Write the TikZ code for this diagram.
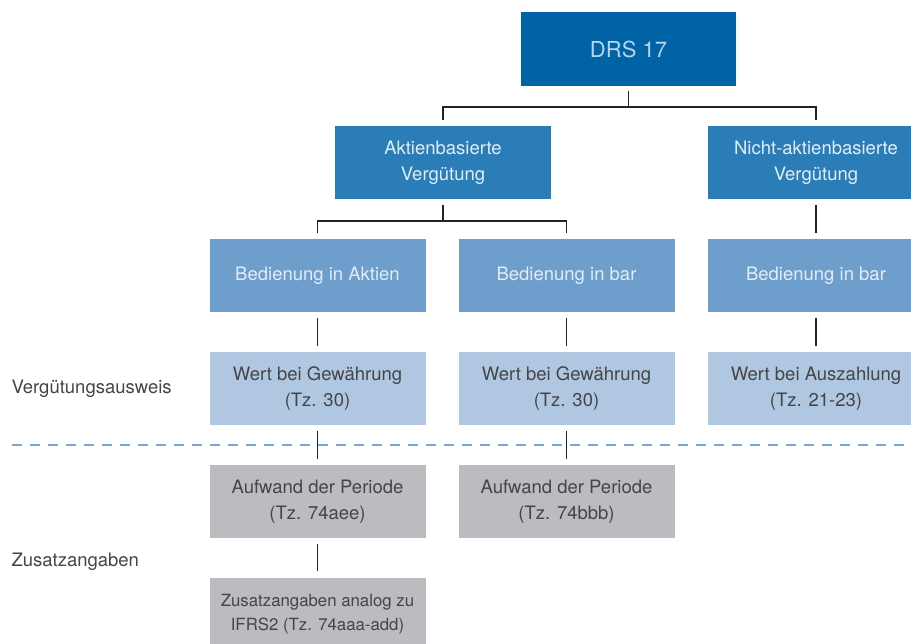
\documentclass[tikz,border=0pt]{standalone}
\usepackage{fontspec}
\setmainfont{TeX Gyre Heros}
\usepackage{xcolor}
\definecolor{drsblau}{HTML}{0063A6}
\definecolor{mittelblau}{HTML}{2B7DB7}
\definecolor{hellblau}{HTML}{6E9ECB}
\definecolor{blassblau}{HTML}{B0C7E2}
\definecolor{grau}{HTML}{BBBCBF}
\definecolor{schrift}{HTML}{454545}
\definecolor{linie}{HTML}{222222}
\definecolor{trennlinie}{HTML}{7DA6D4}
\definecolor{drsschrift}{HTML}{B8D4EE}
\definecolor{hellschrift}{HTML}{E2ECF6}

\begin{document}
\begin{tikzpicture} [x=1pt, y=-1pt
  , box/.style={minimum width=216pt, minimum height=73pt, inner sep=2pt, align=center
      , font=\fontsize{18.5}{26}\selectfont}
  , drsbox/.style={box, fill=drsblau, text=drsschrift, minimum width=215pt, minimum height=74pt
      , font=\fontsize{22}{26}\selectfont}
  , artbox/.style={box, fill=mittelblau, text=hellschrift}
  , bedbox/.style={box, fill=hellblau, text=hellschrift}
  , wertbox/.style={box, fill=blassblau, text=schrift}
  , zusbox/.style={box, fill=grau, text=schrift}
  , ebene/.style={anchor=west, text=schrift, font=\fontsize{18.5}{26}\selectfont}
  , link/.style={draw=linie, line width=1.8pt, shorten <=6pt, shorten >=6pt}
  , baum/.style={draw=linie, line width=1.8pt}
]
\useasboundingbox (0,0) rectangle (911,644);

% Ebene 1 und 2
\node[drsbox] (drs) at (628.5,49) {DRS 17};
\node[artbox] (aktien) at (443,162.5) {Aktienbasierte\\Vergütung};
\node[artbox] (nicht) at (816,162.5) {Nicht-aktienbasierte\\Vergütung};

% Bedienung
\node[bedbox] (bedaktien) at (317.5,275.5) {Bedienung in Aktien};
\node[bedbox] (bedbar) at (566.5,275.5) {Bedienung in bar};
\node[bedbox] (bedbarnicht) at (816,275.5) {Bedienung in bar};

% Wert
\node[wertbox] (wertaktien) at (317.5,388.5) {Wert bei Gewährung\\(Tz. 30)};
\node[wertbox] (wertbar) at (566.5,388.5) {Wert bei Gewährung\\(Tz. 30)};
\node[wertbox] (wertnicht) at (816,388.5) {Wert bei Auszahlung\\(Tz. 21-23)};

% Zusatzangaben
\node[zusbox] (aufwandaktien) at (317.5,501.5) {Aufwand der Periode\\(Tz. 74aee)};
\node[zusbox] (aufwandbar) at (566.5,501.5) {Aufwand der Periode\\(Tz. 74bbb)};
\node[zusbox, font=\fontsize{16.8}{24}\selectfont] (zusatz) at (317.5,614) {Zusatzangaben analog zu\\IFRS2 (Tz. 74aaa-add)};

\node[ebene] (lblwert) at (8,389) {Vergütungsausweis};
\node[ebene] (lblzusatz) at (8,562) {Zusatzangaben};

\coordinate (trennL) at (12,445);
\coordinate (trennR) at (911,445);
\draw[trennlinie, line width=1.6pt, dash pattern=on 10pt off 8pt] (trennL) -- (trennR);

\path[baum]
([yshift=-5pt]drs.south) -- ([yshift=-21pt]drs.south)
([yshift=6pt]aktien.north) |- ([yshift=-21pt]drs.south) -| ([yshift=6pt]nicht.north)
([yshift=-6pt]aktien.south) -- ([yshift=-22pt]aktien.south)
([yshift=6pt]bedaktien.north) |- ([yshift=-22pt]aktien.south) -| ([yshift=6pt]bedbar.north)
;
\path[link]
(nicht) edge (bedbarnicht)
(bedaktien) edge (wertaktien)
(bedbar) edge (wertbar)
(bedbarnicht) edge (wertnicht)
(wertaktien) edge (aufwandaktien)
(wertbar) edge (aufwandbar)
(aufwandaktien) edge (zusatz)
;
\end{tikzpicture}
\end{document}
